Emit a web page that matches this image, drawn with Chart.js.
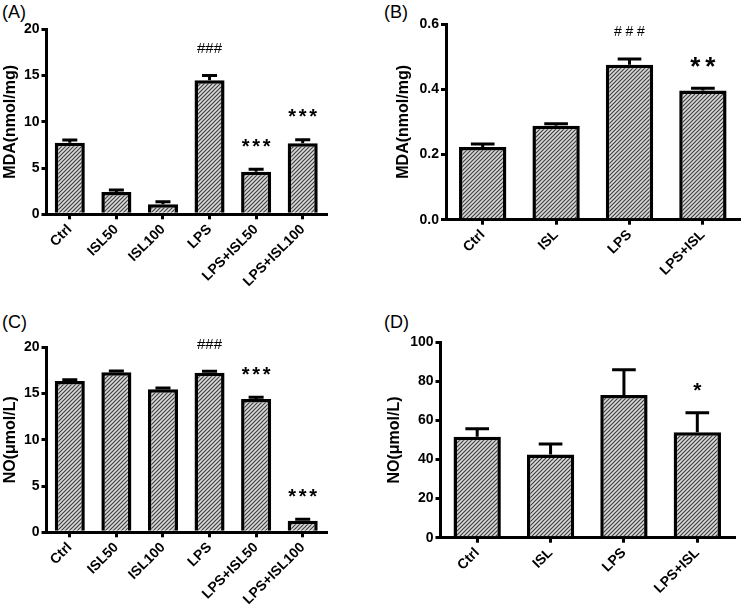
<!DOCTYPE html>
<html>
<head>
<meta charset="utf-8">
<script src="https://cdn.jsdelivr.net/npm/chart.js@4.4.1/dist/chart.umd.min.js"></script>
<style>
  html, body { margin: 0; padding: 0; background: #fff; }
  body { width: 744px; height: 611px; position: relative; overflow: hidden; font-family: "Liberation Sans", Arial, sans-serif; }
  canvas { position: absolute; }
  .tag { position: absolute; font-size: 18px; line-height: 1; color: #000; }
</style>
</head>
<body>
<div class="tag" style="left:2px;top:3px">(A)</div>
<div class="tag" style="left:384px;top:3px">(B)</div>
<div class="tag" style="left:2px;top:313px">(C)</div>
<div class="tag" style="left:384px;top:313px">(D)</div>

<canvas id="grafA" width="372" height="300" style="left:0;top:0;width:372px;height:300px"></canvas>
<canvas id="grafB" width="351" height="300" style="left:393px;top:0;width:351px;height:300px"></canvas>
<canvas id="grafC" width="372" height="311" style="left:0;top:300px;width:372px;height:311px"></canvas>
<canvas id="grafD" width="360" height="311" style="left:384px;top:300px;width:360px;height:311px"></canvas>

<script>
// Dados (média e erro de cada grupo)
const gruposA = ['Ctrl', 'ISL50', 'ISL100', 'LPS', 'LPS+ISL50', 'LPS+ISL100'];
const mdaA = [7.74, 2.4, 1.1, 14.5, 4.6, 7.68];
const mdaAErro = [0.28, 0.22, 0.26, 0.5, 0.26, 0.38];
const sinaisA = ['', '', '', '###', '***', '***'];
const marcasA = [0, 5, 10, 15, 20];

const gruposB = ['Ctrl', 'ISL', 'LPS', 'LPS+ISL'];
const mdaB = [0.223, 0.288, 0.475, 0.396];
const mdaBErro = [0.009, 0.006, 0.018, 0.007];
const sinaisB = ['', '', '###', '**'];
const marcasB = [0, 0.2, 0.4, 0.6];

const gruposC = ['Ctrl', 'ISL50', 'ISL100', 'LPS', 'LPS+ISL50', 'LPS+ISL100'];
const noC = [16.36, 17.3, 15.46, 17.26, 14.4, 1.26];
const noCErro = [0.12, 0.15, 0.15, 0.15, 0.2, 0.16];
const sinaisC = ['', '', '', '###', '***', '***'];
const marcasC = [0, 5, 10, 15, 20];

const gruposD = ['Ctrl', 'ISL', 'LPS', 'LPS+ISL'];
const noD = [51.7, 42.6, 73.0, 54.0];
const noDErro = [4.0, 5.4, 13.0, 10.0];
const sinaisD = ['', '', '', '*'];
const marcasD = [0, 20, 40, 60, 80, 100];

Chart.defaults.font.family = '"Liberation Sans", Arial, sans-serif';
Chart.defaults.color = '#000';

// Padrão hachurado das barras
function hachura(ctx) {
    const c = document.createElement('canvas');
    c.width = 4; c.height = 4;
    const g = c.getContext('2d');
    g.fillStyle = '#dadada';
    g.fillRect(0, 0, 4, 4);
    g.strokeStyle = '#404040';
    g.lineWidth = 1.2;
    g.beginPath();
    g.moveTo(-1, 5); g.lineTo(5, -1);
    g.moveTo(-1, 1); g.lineTo(1, -1);
    g.moveTo(3, 5); g.lineTo(5, 3);
    g.stroke();
    return ctx.createPattern(c, 'repeat');
}

// Barras de erro (só para cima) e marcas de significância
const barrasErro = {
    id: 'barrasErro',
    afterDatasetsDraw(chart, args, opts) {
        const ctx = chart.ctx;
        const y = chart.scales.y;
        const meta = chart.getDatasetMeta(0);
        const vals = chart.data.datasets[0].data;
        ctx.save();
        ctx.strokeStyle = '#000';
        ctx.lineWidth = 3;
        meta.data.forEach((bar, i) => {
            const topo = y.getPixelForValue(vals[i] + opts.erros[i]);
            const meia = bar.width / 4;
            ctx.beginPath();
            ctx.moveTo(bar.x, bar.y);
            ctx.lineTo(bar.x, topo);
            ctx.moveTo(bar.x - meia, topo);
            ctx.lineTo(bar.x + meia, topo);
            ctx.stroke();

            const s = opts.sinais[i];
            if (!s) return;
            const estrela = s.includes('*');
            const m = estrela ? opts.estrela : opts.cerquilha;
            ctx.font = (estrela ? 'bold ' : '') + m.tam + 'px "Liberation Sans", Arial';
            ctx.fillStyle = '#000';
            ctx.textAlign = 'center';
            ctx.textBaseline = 'alphabetic';
            const base = topo - 28 + m.tam * (estrela ? 0.58 : 0.35);
            for (let k = 0; k < s.length; k++) {
                ctx.fillText(s[k], bar.x + (k - (s.length - 1) / 2) * m.passo, base);
            }
        });
        ctx.restore();
    }
};

function grafico(id, grupos, valores, erros, sinais, marcas, titulo, area, formato, estrela, cerquilha) {
    const ctx = document.getElementById(id).getContext('2d');
    const linha = { display: true, drawOnChartArea: false, drawTicks: true, tickLength: 5, color: '#000', lineWidth: 3 };
    return new Chart(ctx, {
        type: 'bar',
        data: {
            labels: grupos,
            datasets: [{
                data: valores,
                backgroundColor: hachura(ctx),
                borderColor: '#000',
                borderWidth: 3.5,
                borderSkipped: 'start',
                categoryPercentage: 1,
                barPercentage: 0.645
            }]
        },
        plugins: [barrasErro],
        options: {
            responsive: false,
            maintainAspectRatio: false,
            animation: false,
            layout: { padding: { top: area.topo, right: area.direita, left: 0, bottom: 0 } },
            plugins: {
                legend: { display: false },
                tooltip: { enabled: false },
                barrasErro: { erros: erros, sinais: sinais, estrela: estrela, cerquilha: cerquilha }
            },
            scales: {
                x: {
                    offset: true,
                    grid: Object.assign({}, linha, { offset: false }),
                    border: { display: true, color: '#000', width: 3 },
                    ticks: { autoSkip: false, maxRotation: 45, minRotation: 45, padding: 2, font: { size: 14, weight: 'bold' } },
                    afterFit(s) { s.height = area.xAltura; }
                },
                y: {
                    min: marcas[0],
                    max: marcas[marcas.length - 1],
                    afterBuildTicks(s) { s.ticks = marcas.map(v => ({ value: v })); },
                    grid: linha,
                    border: { display: true, color: '#000', width: 3 },
                    ticks: { padding: 2, font: { size: 14, weight: 'bold' }, callback: formato },
                    title: { display: true, text: titulo, font: { size: 16, weight: 'bold' }, padding: { top: 1, bottom: 0 } },
                    afterFit(s) { s.width = area.yLargura; }
                }
            }
        }
    });
}

const inteiro = v => v;
const decimal = v => v.toFixed(1);

grafico('grafA', gruposA, mdaA, mdaAErro, sinaisA, marcasA, 'MDA(nmol/mg)',
    { topo: 29.3, direita: 46, xAltura: 85.7, yLargura: 46.5 }, inteiro,
    { tam: 20, passo: 10.5 }, { tam: 15, passo: 8.3 });
grafico('grafB', gruposB, mdaB, mdaBErro, sinaisB, marcasB, 'MDA(nmol/mg)',
    { topo: 24, direita: 4.4, xAltura: 80.3, yLargura: 53 }, decimal,
    { tam: 26, passo: 15 }, { tam: 14, passo: 11.5 });
grafico('grafC', gruposC, noC, noCErro, sinaisC, marcasC, 'NO(μmol/L)',
    { topo: 47.3, direita: 46, xAltura: 78.7, yLargura: 46.5 }, inteiro,
    { tam: 20, passo: 10.5 }, { tam: 15, passo: 8.3 });
grafico('grafD', gruposD, noD, noDErro, sinaisD, marcasD, 'NO(μmol/L)',
    { topo: 42.3, direita: 10, xAltura: 73.3, yLargura: 56.5 }, inteiro,
    { tam: 21, passo: 10 }, { tam: 15, passo: 8.3 });
</script>
</body>
</html>
